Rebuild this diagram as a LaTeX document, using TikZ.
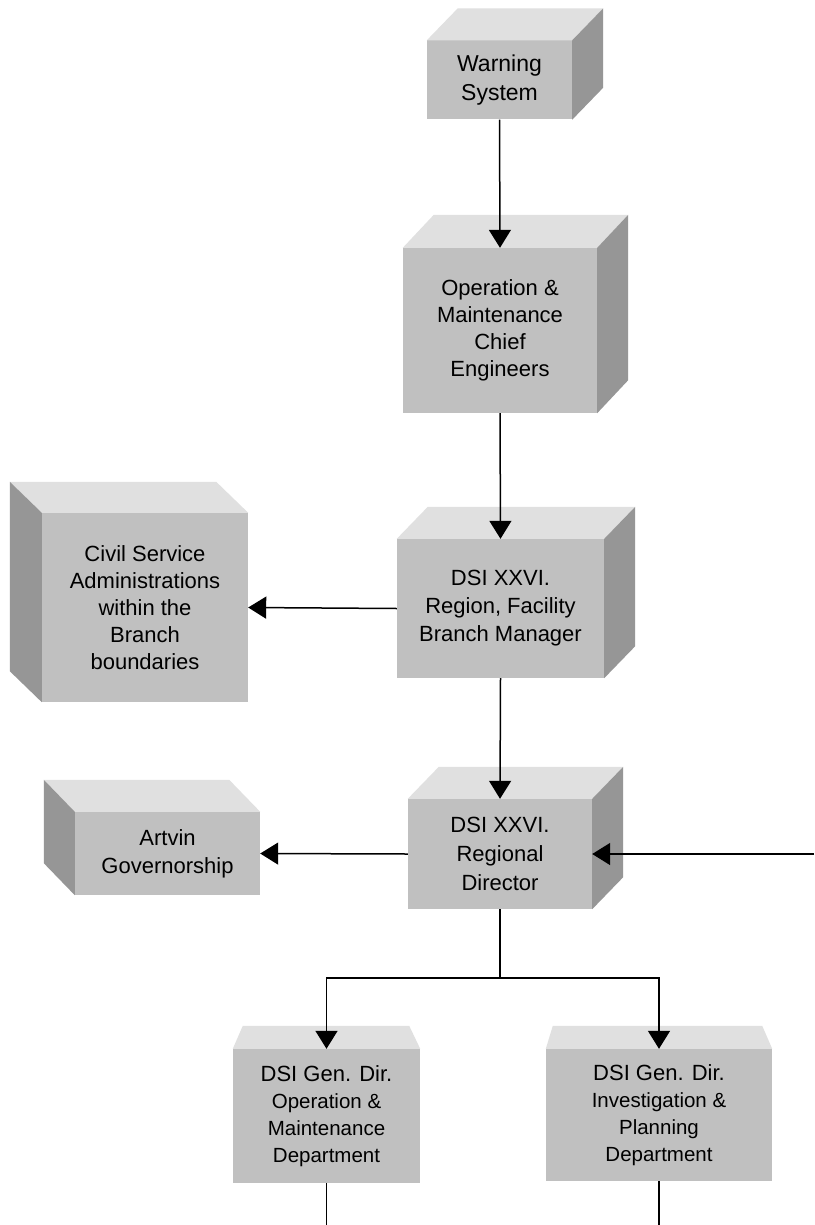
\documentclass[tikz,border=0pt]{standalone}
\usepackage{fontspec}
\setmainfont{Liberation Sans}
\usetikzlibrary{arrows.meta,calc}
\definecolor{frontc}{HTML}{C0C0C0}
\definecolor{topc}{HTML}{E0E0E0}
\definecolor{sidec}{HTML}{969696}
\newcommand\depthright[3]{%
  \fill[topc] (#1.north west) -- ++(#2,#3) -- ($(#1.north east)+(#2,#3)$) -- (#1.north east) -- cycle;
  \fill[sidec] (#1.north east) -- ++(#2,#3) -- ($(#1.south east)+(#2,#3)$) -- (#1.south east) -- cycle;}
\newcommand\depthleft[3]{%
  \fill[topc] (#1.north east) -- ++(#2,#3) -- ($(#1.north west)+(#2,#3)$) -- (#1.north west) -- cycle;
  \fill[sidec] (#1.north west) -- ++(#2,#3) -- ($(#1.south west)+(#2,#3)$) -- (#1.south west) -- cycle;}
\newcommand\depthtop[4]{%
  \fill[topc] (#1.north west) -- ++(#2,#4) -- ($(#1.north east)+(#3,#4)$) -- (#1.north east) -- cycle;}
\tikzset{
  face/.style={fill=frontc, draw=none, inner sep=0pt, align=center,
    font=\fontsize{22}{27}\selectfont},
  conn/.style={line width=1.5pt, -{Triangle[length=18pt,width=22pt]}},
  plainline/.style={line width=1.5pt}
}
\begin{document}
\begin{tikzpicture}[x=1pt,y=-1pt]
\useasboundingbox (0,0) rectangle (814,1225);
\fill[white] (0,0) rectangle (814,1225);

\node[face, minimum width=145pt, minimum height=79pt, font=\fontsize{23}{29}\selectfont]
  (warn) at (499.5,80) {Warning\\System};
\node[face, minimum width=194pt, minimum height=165pt]
  (ome) at (500,330.5) {Operation \&\\Maintenance\\Chief\\Engineers};
\node[face, minimum width=206pt, minimum height=189pt]
  (civil) at (145,607.5) {Civil Service\\Administrations\\within the\\Branch\\boundaries};
\node[face, minimum width=207pt, minimum height=139pt, font=\fontsize{22}{28}\selectfont]
  (region) at (500.5,608.5) {DSI XXVI.\\Region, Facility\\Branch Manager};
\node[face, minimum width=185pt, minimum height=83pt, font=\fontsize{22}{28}\selectfont]
  (artvin) at (167.5,853.5) {Artvin\\Governorship};
\node[face, minimum width=184pt, minimum height=110pt, font=\fontsize{22}{29}\selectfont]
  (regdir) at (500,854) {DSI XXVI.\\Regional\\Director};
\node[face, minimum width=187pt, minimum height=134pt, font=\fontsize{20.5}{27}\selectfont]
  (gom) at (326.5,1116) {{\fontsize{22}{27}\selectfont DSI Gen. Dir.}\\Operation \&\\Maintenance\\Department};
\node[face, minimum width=226pt, minimum height=132pt, font=\fontsize{20.5}{27}\selectfont]
  (gip) at (659,1115) {{\fontsize{22}{27}\selectfont DSI Gen. Dir.}\\Investigation \&\\Planning\\Department};

\depthright{warn}{31}{-32}
\depthright{ome}{31}{-33}
\depthleft{civil}{-32}{-31}
\depthright{region}{31}{-32}
\depthleft{artvin}{-31}{-32}
\depthright{regdir}{31}{-32}
\depthtop{gom}{10}{-11}{-23}
\depthtop{gip}{7}{-10}{-23}

\coordinate (rin) at (814,854);
\coordinate (split) at (500,978);
\coordinate (gomend) at (326.5,1225);
\coordinate (gipend) at (659,1225);

\draw[conn] (warn.south) -- (ome.north);
\draw[conn] (ome.south) -- (region.north);
\draw[conn] (region.west) -- (civil.east);
\draw[conn] (region.south) -- (regdir.north);
\draw[conn] (regdir.west) -- (artvin.east);
\draw[conn] (rin) -- (regdir.east);
\draw[plainline] (regdir.south) -- (split);
\draw[conn] (split) -| (gom.north);
\draw[conn] (split) -| (gip.north);
\draw[plainline] (gom.south) -- (gomend);
\draw[plainline] (gip.south) -- (gipend);
\end{tikzpicture}
\end{document}
